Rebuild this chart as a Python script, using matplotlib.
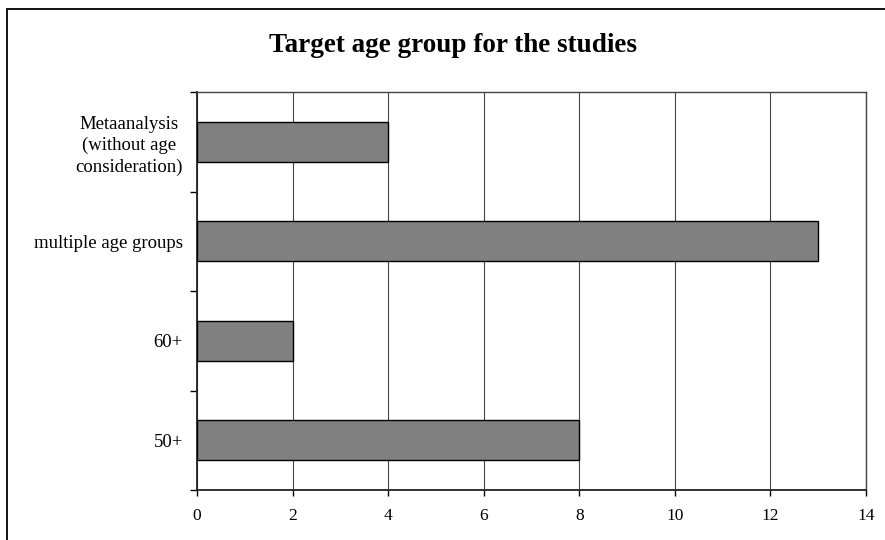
import matplotlib
matplotlib.use("Agg")
import matplotlib.pyplot as plt
from matplotlib.patches import Rectangle
import numpy as np

categories = ["50+", "60+", "multiple age groups",
              "Metaanalysis\n(without age\nconsideration)"]
values = [8, 2, 13, 4]
x_ticks = [0, 2, 4, 6, 8, 10, 12, 14]
title = "Target age group for the studies"

plt.rcParams["font.family"] = ["Liberation Serif", "DejaVu Serif"]

W, H = 885, 540
fig = plt.figure(figsize=(W / 100, H / 100), dpi=100)
fig.patch.set_facecolor("white")

# outer frame of the chart area
fig.patches.append(Rectangle((7 / W, -0.2), 1.2, 1.2 - 9 / H,
                             transform=fig.transFigure, fill=False,
                             edgecolor="black", linewidth=1.3, zorder=0))

ax = fig.add_axes([197 / W, 1 - 490 / H, (866 - 197) / W, (490 - 92) / H])

y = np.arange(len(categories))
ax.barh(y, values, height=0.4, color="#808080", edgecolor="black",
        linewidth=1.0, zorder=3)

ax.set_xlim(0, 14)
ax.set_ylim(-0.5, len(categories) - 0.5)
ax.set_xticks(x_ticks)
ax.set_xticklabels([str(t) for t in x_ticks], fontsize=12.5)
ax.set_yticks(y)
ax.set_yticklabels(categories, fontsize=13.5, multialignment="center",
                   linespacing=1.3)
ax.set_yticks(np.arange(-0.5, len(categories), 1.0), minor=True)

ax.tick_params(axis="y", which="major", length=0, pad=10)
ax.tick_params(axis="y", which="minor", length=5, width=1.0, direction="out")
ax.tick_params(axis="x", which="major", length=4, width=1.0, direction="out",
               pad=9)

ax.grid(axis="x", color="#444444", linewidth=0.8, zorder=1)
ax.set_axisbelow(True)

for side in ["left", "bottom"]:
    ax.spines[side].set_linewidth(1.3)
    ax.spines[side].set_color("#222222")
for side in ["top", "right"]:
    ax.spines[side].set_linewidth(1.0)
    ax.spines[side].set_color("#444444")

fig.text(453 / W, 1 - 52 / H, title, ha="center", va="baseline",
         fontsize=19.5, fontweight="bold")

fig.savefig("out.png", dpi=100)
